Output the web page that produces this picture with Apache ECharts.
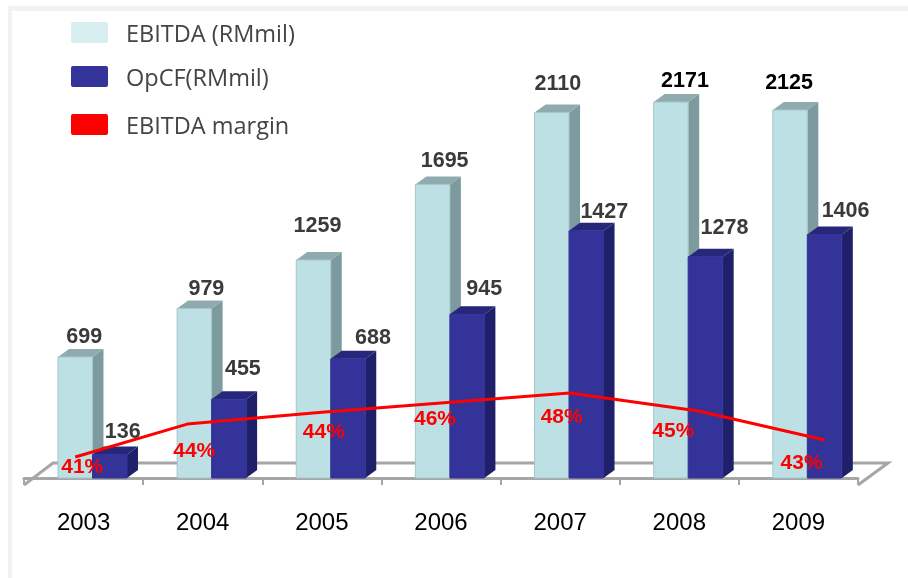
<!DOCTYPE html>
<html><head><meta charset="utf-8">
<style>html,body{margin:0;padding:0;background:#fff}#c{width:908px;height:578px}</style>
<script src="https://cdn.jsdelivr.net/npm/echarts@6/dist/echarts.min.js"></script>
</head><body><div id="c"></div>
<script>
const years = ['2003','2004','2005','2006','2007','2008','2009'];
const ebitda = [699,979,1259,1695,2110,2171,2125];
const opcf = [136,455,688,945,1427,1278,1406];
const marginLabels = [41,44,44,46,48,45,43];
const marginLineValues = [41,44.6,45.9,46.9,48,46.03,42.85];
const marginLineYears = [2002.93,2003.87,2005,2006,2007.08,2008.16,2009.22];

// label placement nudges, [dx, dy] in pixels
const ebitdaNudge = [[9,-20],[12,-19],[4,-34],[12,-23],[6,-29],[14,-21],[-1,-27]];
const opcfNudge = [[13,-22],[14,-30],[25,-21],[17,-25],[18,-19],[19,-29],[21,-23]];
const marginNudge = [[7,10],[7,27],[2,20],[-6,16],[-8,24],[-25,20],[-23,23]];

const DX = 11, DY = 8, BW = 34.5, FONT = '"Liberation Sans",Arial,sans-serif';
const LEGEND_FONT = '"Open Sans","Noto Sans",sans-serif';
// swatch occupies the top 21 of a 27-tall icon box, so the legend text sits slightly below its centre
const LEGEND_ICON = 'path://M2,0H35Q37,0 37,2V19Q37,21 35,21H2Q0,21 0,19V2Q0,0 2,0ZM0,27L0,27Z';

function bar3d(front, side, top, edge, xOff, nudge, labelColor) {
  return function (params, api) {
    const i = params.dataIndex, v = api.value(1);
    const p = api.coord([api.value(0), v]);
    const b = api.coord([api.value(0), 0]);
    const x0 = p[0] + xOff, x1 = x0 + BW, yt = p[1], yb = b[1];
    const c = labelColor(i);
    return {
      type: 'group',
      children: [
        {type:'polygon',shape:{points:[[x1,yt],[x1+DX,yt-DY],[x1+DX,yb-DY],[x1,yb]]},style:{fill:side}},
        {type:'polygon',shape:{points:[[x0,yt],[x0+DX,yt-DY],[x1+DX,yt-DY],[x1,yt]]},style:{fill:top}},
        {type:'rect',shape:{x:x0,y:yt,width:BW,height:yb-yt},style:{fill:front,stroke:edge,lineWidth:1}},
        {type:'text',z2:50,style:{text:String(v),x:(x0+x1)/2+nudge[i][0],y:yt+nudge[i][1],
          fill:c,font:'bold 21.5px '+FONT,align:'center',verticalAlign:'middle'}}
      ]
    };
  };
}

const chart = echarts.init(document.getElementById('c'), null, {renderer:'canvas'});
const legendAt = (name, top, color) => ({
  left:71, top, orient:'vertical', itemWidth:37, itemHeight:27, itemGap:0, padding:0,
  textStyle:{fontFamily:LEGEND_FONT, fontSize:23.5, color:'#444', padding:[0,0,0,13]},
  selectedMode:false,
  data:[{name, icon:LEGEND_ICON, itemStyle:{color, borderWidth:0, opacity:1}}]
});
chart.setOption({
  animation:false,
  backgroundColor:'#fff',
  graphic:[
    {type:'rect',z:-10,shape:{x:8,y:6,width:900,height:5},style:{fill:'#f2f2f2'}},
    {type:'rect',z:-10,shape:{x:8,y:6,width:4,height:572},style:{fill:'#f2f2f2'}}
  ],
  legend:[
    legendAt('EBITDA (RMmil)',22,'#d8edf0'),
    legendAt('OpCF(RMmil)',66,'#333399'),
    legendAt('EBITDA margin',114,'#ff0000')
  ],
  grid:{left:24,right:50,top:97,bottom:100},
  xAxis:[
    {type:'category',data:years,offset:7,
     axisLine:{lineStyle:{color:'#a6a6a6',width:3}},
     axisTick:{show:true,length:7,lineStyle:{color:'#a6a6a6',width:2}},
     axisLabel:{fontFamily:FONT,fontSize:24,color:'#000',margin:26}},
    {type:'value',min:2002.5,max:2009.5,show:false}
  ],
  yAxis:[
    {type:'value',min:0,max:2200,show:false},
    {type:'value',min:38.7,max:80.4,show:false}
  ],
  series:[
    {type:'custom',name:'floor',silent:true,z:1,data:[[0]],
     renderItem(params,api){
       const g=params.coordSys, y=g.y+g.height+7, l=g.x, r=g.x+g.width;
       return {type:'polyline',shape:{points:[[l,y],[l+29,y-22],[r+30,y-22],[r,y]]},
         style:{fill:null,stroke:'#a6a6a6',lineWidth:3}};
     }},
    {type:'custom',name:'EBITDA (RMmil)',z:2,data:ebitda.map((v,i)=>[i,v]),encode:{x:0,y:1},
     itemStyle:{color:'#bce0e4'},
     renderItem:bar3d('#bce0e4','#7d9a9e','#8fabae','#a5c6ca',-25.6,ebitdaNudge,i=>i>=5?'#000':'#3a3a3a')},
    {type:'custom',name:'OpCF(RMmil)',z:3,data:opcf.map((v,i)=>[i,v]),encode:{x:0,y:1},
     itemStyle:{color:'#333399'},
     renderItem:bar3d('#333399','#20206a','#26267a','#333399',8.9,opcfNudge,i=>'#3a3a3a')},
    {type:'line',name:'EBITDA margin',xAxisIndex:1,yAxisIndex:1,z:5,
     data:marginLineValues.map((v,i)=>({value:[marginLineYears[i],v],
       label:{show:true,position:'inside',formatter:marginLabels[i]+'%'}})),
     symbol:'circle',symbolSize:1,showAllSymbol:true,
     itemStyle:{color:'rgba(255,0,0,0)'},
     lineStyle:{color:'#ff0000',width:3},
     labelLayout:p=>({dx:marginNudge[p.dataIndex][0],dy:marginNudge[p.dataIndex][1],hideOverlap:false}),
     label:{show:true,fontFamily:FONT,fontWeight:'bold',fontSize:21,color:'#ff0000',textBorderWidth:0}}
  ]
});
</script></body></html>
